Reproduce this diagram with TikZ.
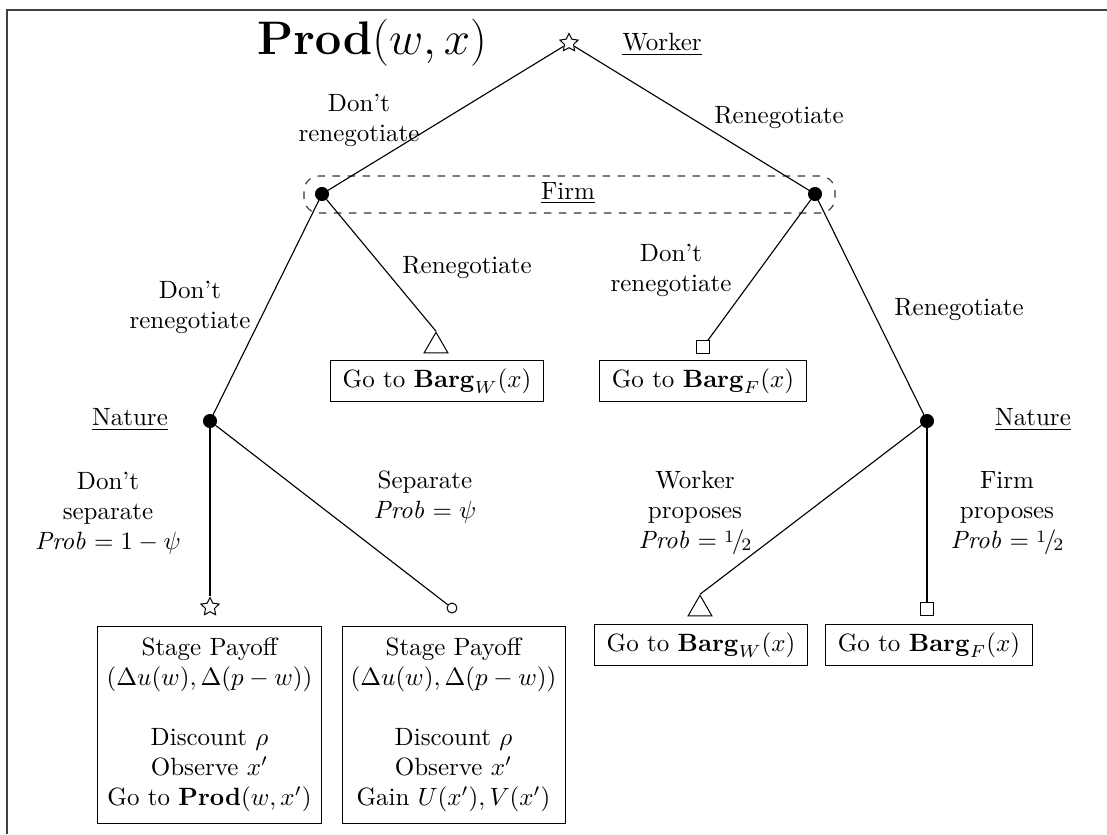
\documentclass[tikz,border=0pt]{standalone}
\usetikzlibrary{shapes.geometric}
\newcommand{\halffrac}{\raisebox{.55ex}{\scriptsize 1}\kern-.08em/\kern-.12em\raisebox{-.2ex}{\scriptsize 2}}
\begin{document}
\begin{tikzpicture}[x=0.4pt,y=-0.4pt,
  every node/.style={font=\fontsize{10}{12}\selectfont},
  lbl/.style={align=center,inner sep=0pt},
  dec/.style={circle,fill=black,draw=black,inner sep=0pt,minimum size=5.2pt},
  starm/.style={star,star points=5,star point ratio=2.0,draw,inner sep=0pt,minimum size=7.6pt},
  trim/.style={regular polygon,regular polygon sides=3,draw,inner sep=0pt,minimum size=11pt},
  sqm/.style={rectangle,draw,inner sep=0pt,minimum size=5pt},
  circm/.style={circle,draw,inner sep=0pt,minimum size=4pt},
  smallbox/.style={draw,inner xsep=5pt,inner ysep=3.2pt},
  bigbox/.style={draw,align=center,minimum width=89.2pt,minimum height=78.8pt,inner sep=3pt},
  edge/.style={line width=0.45pt}]
\useasboundingbox (0,0) rectangle (1107,834);
% frame
\draw[line width=0.9pt,black!75] (7,834) -- (7,10) -- (1107,10);
% title
\node[font=\LARGE] (title) at (372,43) {\scalebox{1.09}{$\mathbf{Prod}(w,x)$}};
% nodes
\node[starm] (root) at (569,43) {};
\node[lbl] (worker) at (662,45) {\underline{Worker}};
\node[dec] (fl) at (322,194) {};
\node[dec] (fr) at (815,194) {};
\node[draw,dashed,rounded corners=6pt,minimum width=212.4pt,minimum height=14.8pt,line width=0.45pt,black!80] (infoset) at (569.5,194.5) {};
\node[lbl] (firm) at (568,193) {\underline{Firm}};
\node[lbl] (l1) at (359,120) {Don't\\renegotiate};
\node[lbl] (l2) at (779,118) {Renegotiate};
% left firm
\node[trim] (tw1) at (436,346) {};
\node[smallbox] (bw1) at (437,381) {Go to $\mathbf{Barg}_W(x)$};
\node[lbl] (l3) at (190,307) {Don't\\renegotiate};
\node[lbl] (l4) at (467,268) {Renegotiate};
% right firm
\node[sqm] (sf1) at (703,347) {};
\node[smallbox] (bf1) at (703,381) {Go to $\mathbf{Barg}_F(x)$};
\node[lbl] (l5) at (671,270) {Don't\\renegotiate};
\node[lbl] (l6) at (959,310) {Renegotiate};
% nature
\node[dec] (nl) at (210,421) {};
\node[dec] (nr) at (927,421) {};
\node[lbl] (natl) at (130,420) {\underline{Nature}};
\node[lbl] (natr) at (1033,420) {\underline{Nature}};
\node[lbl] (l7) at (108,513) {Don't\\separate\\$\mathit{Prob}=1-\psi$};
\node[lbl] (l8) at (425,497) {Separate\\$\mathit{Prob}=\psi$};
\node[lbl] (l9) at (695,513) {Worker\\proposes\\$\mathit{Prob}=\halffrac$};
\node[lbl] (l10) at (1007,513) {Firm\\proposes\\$\mathit{Prob}=\halffrac$};
% terminal markers
\node[starm] (st2) at (210,607) {};
\node[circm] (ci2) at (452,608) {};
\node[trim] (tw2) at (700,609) {};
\node[sqm] (sf2) at (927,609) {};
% boxes
\node[bigbox] (b1) at (209.5,724.5) {Stage Payoff\\$(\Delta u(w),\Delta(p-w))$\\[12pt]Discount $\rho$\\Observe $x'$\\Go to $\mathbf{Prod}(w,x')$};
\node[bigbox] (b2) at (453.5,724.5) {Stage Payoff\\$(\Delta u(w),\Delta(p-w))$\\[12pt]Discount $\rho$\\Observe $x'$\\Gain $U(x'),V(x')$};
\node[smallbox] (bw2) at (701,645) {Go to $\mathbf{Barg}_W(x)$};
\node[smallbox] (bf2) at (929,645) {Go to $\mathbf{Barg}_F(x)$};
% edges
\draw[edge] (root) -- (fl);
\draw[edge] (root) -- (fr);
\draw[edge] (fl) -- (nl);
\draw[edge] (fl) -- (tw1.north);
\draw[edge] (fr) -- (sf1);
\draw[edge] (fr) -- (nr);
\draw[edge] (nl) -- (st2);
\draw[edge] (nl) -- (ci2);
\draw[edge] (nr) -- (tw2.north);
\draw[edge] (nr) -- (sf2);
\end{tikzpicture}
\end{document}
